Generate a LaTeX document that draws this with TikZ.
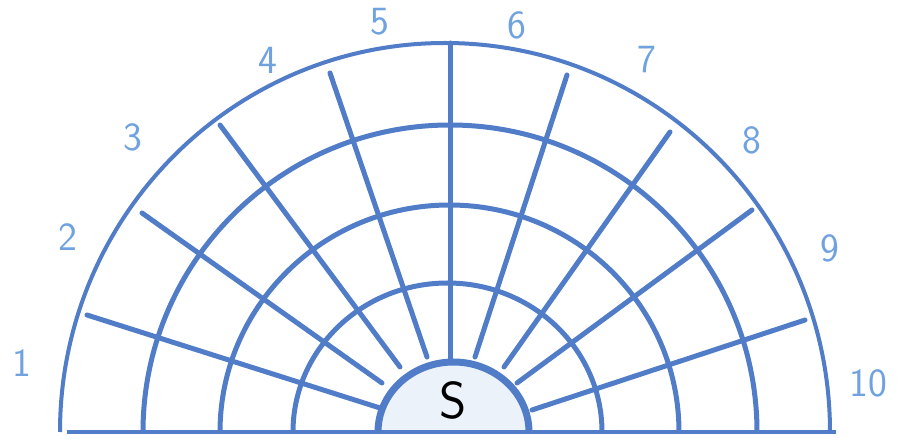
\documentclass[tikz,border=0pt]{standalone}
\usepackage{tikz}
\definecolor{pen}{RGB}{80,124,200}
\definecolor{labelblue}{RGB}{112,162,224}
\definecolor{sfill}{RGB}{236,242,250}
\tikzset{
  ring/.style={draw=pen, line width=5pt},
  ray/.style={draw=pen, line width=5pt, line cap=round},
  lbl/.style={text=labelblue, font=\sffamily\fontsize{40}{40}\selectfont, inner sep=0pt},
}
\begin{document}
\begin{tikzpicture}[x=1pt,y=1pt]
\useasboundingbox (0,0) rectangle (897,439);
% radial lines
\coordinate (o1) at (87,124);  \coordinate (i1) at (380,31);
\coordinate (o2) at (142,226); \coordinate (i2) at (382,56);
\coordinate (o3) at (220,314); \coordinate (i3) at (400,72);
\coordinate (o4) at (330,366); \coordinate (i4) at (427,82);
\coordinate (o5) at (450,396); \coordinate (i5) at (450,77);
\coordinate (o6) at (567,364); \coordinate (i6) at (475,82);
\coordinate (o7) at (670,307); \coordinate (i7) at (504,72);
\coordinate (o8) at (752,229); \coordinate (i8) at (517,56);
\coordinate (o9) at (805,119); \coordinate (i9) at (532,29);
\foreach \k in {1,...,9} {\draw[ray] (o\k) -- (i\k);}
% arcs
\draw[ring, line width=4pt] (830,7) arc[start angle=0, end angle=180, x radius=385, y radius=389];
\draw[ring] (757,7) arc[start angle=0, end angle=180, x radius=307, y radius=307];
\draw[ring] (679,7) arc[start angle=0, end angle=180, x radius=229.5, y radius=227];
\draw[ring] (602,7) arc[start angle=0, end angle=180, x radius=154.5, y radius=149];
% source semicircle
\fill[sfill] (529,7) arc[start angle=0, end angle=180, x radius=75.5, y radius=70] -- cycle;
\draw[pen, line width=7pt] (529,7) arc[start angle=0, end angle=180, x radius=75.5, y radius=70];
% baseline
\coordinate (bl) at (67,7); \coordinate (br) at (836,7);
\draw[pen, line width=4pt] (bl) -- (br);
% labels
\node[font=\sffamily\fontsize{52}{52}\selectfont, inner sep=0pt] (S) at (453,39) {S};
\node[lbl] (n1) at (22,76) {1};
\node[lbl] (n2) at (68,202) {2};
\node[lbl] (n3) at (133,302) {3};
\node[lbl] (n4) at (268,379) {4};
\node[lbl] (n5) at (380,417) {5};
\node[lbl] (n6) at (517,414) {6};
\node[lbl] (n7) at (647,379) {7};
\node[lbl] (n8) at (752,299) {8};
\node[lbl] (n9) at (830,191) {9};
\node[lbl] (n10) at (868,56) {10};
\end{tikzpicture}
\end{document}
